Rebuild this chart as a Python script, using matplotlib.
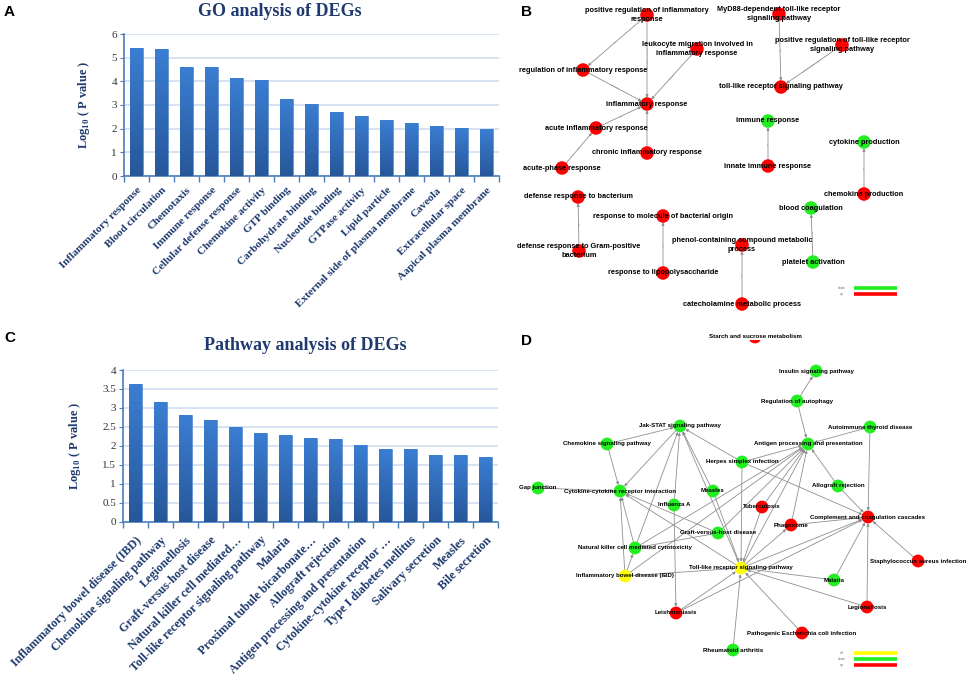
import numpy as np
import matplotlib
matplotlib.use("Agg")
import matplotlib.pyplot as plt
from matplotlib.colors import LinearSegmentedColormap

plt.rcParams["mathtext.fontset"] = "custom"
plt.rcParams["mathtext.rm"] = "Liberation Serif:bold"
plt.rcParams["mathtext.bf"] = "Liberation Serif:bold"

# ---- panel A: GO terms ----
go_terms = ["Inflammatory response", "Blood circulation", "Chemotaxis", "Immune response",
            "Cellular defense response", "Chemokine activity", "GTP binding",
            "Carbohydrate binding", "Nucleotide binding", "GTPase activity", "Lipid particle",
            "External side of plasma membrane", "Caveola", "Extracellular space",
            "Aapical plasma membrane"]
go_values = [5.42, 5.37, 4.62, 4.61, 4.16, 4.04, 3.27, 3.05, 2.72, 2.54, 2.35, 2.22, 2.12, 2.02, 1.97]

# ---- panel C: pathways ----
path_terms = ["Inflammatory bowel disease (IBD)", "Chemokine signaling pathway", "Legionellosis",
              "Graft-versus-host disease", "Natural killer cell mediated\u2026",
              "Toll-like receptor signaling pathway", "Malaria", "Proximal tubule bicarbonate\u2026",
              "Allograft rejection", "Antigen processing and presentation",
              "Cytokine-cytokine receptor \u2026", "Type I diabetes mellitus", "Salivary secretion",
              "Measles", "Bile secretion"]
path_values = [3.62, 3.16, 2.81, 2.67, 2.51, 2.35, 2.29, 2.22, 2.17, 2.03, 1.93, 1.93, 1.76, 1.76, 1.70]

# ---- panel B: GO network (pixel layout of the original) ----
b_names = ["positive regulation of inflammatory\nresponse",
           "MyD88-dependent toll-like receptor\nsignaling pathway",
           "leukocyte migration involved in\ninflammatory response",
           "positive regulation of toll-like receptor\nsignaling pathway",
           "regulation of inflammatory response", "toll-like receptor signaling pathway",
           "inflammatory response", "acute inflammatory response", "immune response",
           "cytokine production", "chronic inflammatory response", "innate immune response",
           "acute-phase response", "chemokine production", "defense response to bacterium",
           "response to molecule of bacterial origin", "blood coagulation",
           "phenol-containing compound metabolic\nprocess",
           "defense response to Gram-positive\nbacterium", "platelet activation",
           "response to lipopolysaccharide", "catecholamine metabolic process"]
b_x = [647, 779, 697, 842, 583, 781, 647, 596, 768, 864, 647, 768, 562, 864, 578, 663,
       811, 742, 579, 813, 663, 742]
b_y = [15, 14, 49, 45, 70, 87, 104, 128, 121, 142, 153, 166, 168, 194, 197, 216,
       208, 245, 251, 262, 273, 304]
b_status = ["up", "up", "up", "up", "up", "up", "up", "up", "down", "down", "up", "up",
            "up", "up", "up", "up", "down", "up", "up", "down", "up", "up"]
b_edges = [(0, 4), (0, 6), (2, 6), (4, 6), (7, 6), (10, 6), (12, 7), (1, 5), (3, 5),
           (11, 8), (13, 9), (18, 14), (20, 15), (21, 17), (19, 16)]
b_edge_types = ["is_a", "positively_regulates", "part_of", "regulates", "is_a", "is_a",
                "is_a", "is_a", "positively_regulates", "is_a", "is_a", "is_a", "is_a",
                "is_a", "part_of"]

# ---- panel D: pathway network ----
d_names = ["Starch and sucrose metabolism", "Insulin signaling pathway",
           "Regulation of autophagy", "Jak-STAT signaling pathway",
           "Autoimmune thyroid disease", "Chemokine signaling pathway",
           "Antigen processing and presentation", "Herpes simplex infection", "Gap junction",
           "Cytokine-cytokine receptor interaction", "Measles", "Allograft rejection",
           "Influenza A", "Tuberculosis", "Complement and coagulation cascades", "Phagosome",
           "Graft-versus-host disease", "Natural killer cell mediated cytotoxicity",
           "Staphylococcus aureus infection", "Toll-like receptor signaling pathway",
           "Inflammatory bowel disease (IBD)", "Malaria", "Leishmaniasis", "Legionellosis",
           "Pathogenic Escherichia coli infection", "Rheumatoid arthritis"]
d_x = [755, 816, 797, 680, 870, 607, 808, 742, 538, 620, 713, 838, 674, 762, 868, 791,
       718, 635, 918, 741, 625, 834, 676, 867, 802, 733]
d_y = [337, 371, 401, 426, 427, 444, 444, 462, 488, 491, 491, 486, 505, 507, 517, 525,
       533, 548, 561, 568, 576, 580, 613, 607, 633, 650]
d_status = ["up", "down", "down", "down", "down", "down", "down", "down", "down", "down",
            "down", "down", "down", "up", "up", "up", "down", "down", "up", "all", "all",
            "down", "up", "up", "up", "down"]
d_edges = [(1, 0), (2, 1), (2, 6), (4, 6), (4, 14), (5, 3), (5, 9), (3, 9), (8, 9),
           (7, 3), (7, 6), (7, 19), (7, 14), (10, 3), (10, 19), (12, 3), (12, 22),
           (17, 3), (17, 9), (17, 6), (20, 9), (20, 17), (20, 19), (19, 3), (19, 9),
           (16, 17), (16, 6), (16, 9), (13, 6), (13, 19), (15, 6), (15, 14), (19, 15),
           (19, 14), (19, 6), (11, 6), (11, 14), (18, 14), (21, 14), (21, 19), (23, 14),
           (23, 19), (24, 19), (25, 19), (22, 19), (22, 14), (20, 6)]

status_colors = {"up": "#ff0000", "down": "#22ee22", "all": "#ffff00"}
navy = "#1f3a6e"

fig = plt.figure(figsize=(9.7, 6.81), dpi=100)
W, H = 970.0, 681.0

cmap = LinearSegmentedColormap.from_list("barblue", ["#27579a", "#3b7ed2"])
grad = np.linspace(0, 1, 100).reshape(-1, 1)


def bar_panel(rect, labels, values, ymax, ystep, yfmt, lab_fs, lab_pad):
    ax = fig.add_axes(rect)
    xs = np.arange(len(labels))
    bars = ax.bar(xs, values, width=0.5, color="#2f68b5", edgecolor="#5a8fd6",
                  linewidth=0.5, zorder=3)
    for b in bars:
        im = ax.imshow(grad, extent=[b.get_x(), b.get_x() + b.get_width(), 0, b.get_height()],
                       origin="lower", cmap=cmap, aspect="auto", zorder=3)
        im.set_clip_path(b)
    ax.set_xlim(-0.5, len(labels) - 0.5)
    ax.set_ylim(0, ymax)
    yt = np.arange(0, ymax + 1e-9, ystep)
    ax.set_yticks(yt)
    ax.set_yticklabels([yfmt(v) for v in yt], fontfamily="Liberation Serif", fontsize=8,
                       color="#333333")
    ax.yaxis.grid(True, color="#d6e2f2", linewidth=1.4, zorder=0)
    ax.set_axisbelow(True)
    for s in ["top", "right"]:
        ax.spines[s].set_visible(False)
    for s in ["left", "bottom"]:
        ax.spines[s].set_color("#4a7ebb")
        ax.spines[s].set_linewidth(1.2)
    ax.tick_params(axis="y", length=3, color="#4a7ebb", pad=2)
    ax.set_xticks(xs)
    ax.set_xticklabels(labels, rotation=45, ha="right", va="top", rotation_mode="anchor",
                       fontfamily="Liberation Serif", fontweight="bold", fontsize=lab_fs,
                       color=navy)
    ax.tick_params(axis="x", length=0, pad=lab_pad)
    ax.set_xticks(np.arange(-0.5, len(labels), 1.0), minor=True)
    ax.tick_params(axis="x", which="minor", length=4, color="#4a7ebb", width=1)
    ax.set_ylabel(r"Log$_{10}$ ( P value )", fontfamily="Liberation Serif",
                  fontweight="bold", fontsize=9, color=navy, labelpad=14)
    return ax


bar_panel([124 / W, 1 - 176 / H, 375 / W, 142 / H], go_terms, go_values, 6, 1,
          lambda v: "%d" % v, 8.0, 7)
bar_panel([123 / W, 1 - 521.7 / H, 375 / W, 151.7 / H], path_terms, path_values, 4, 0.5,
          lambda v: ("%g" % v), 8.7, 9)

fig.text(280 / W, 1 - 11 / H, "GO analysis of DEGs", ha="center", va="center",
         fontfamily="Liberation Serif", fontweight="bold", fontsize=13, color=navy)
fig.text(305 / W, 1 - 346 / H, "Pathway analysis of DEGs", ha="center", va="center",
         fontfamily="Liberation Serif", fontweight="bold", fontsize=13, color=navy)

for lx, ly, letter in [(4, 12, "A"), (521, 12, "B"), (4, 338, "C"), (521, 341, "D")]:
    fig.text(lx / W, 1 - ly / H, letter, ha="left", va="center", fontfamily="Liberation Sans",
             fontweight="bold", fontsize=11, color="black")


def network(rect, xlim, ylim, names, xs, ys, status, edges, fs, node_s, etypes=None):
    ax = fig.add_axes(rect)
    ax.set_xlim(*xlim)
    ax.set_ylim(*ylim)
    ax.axis("off")
    for k, (a, b) in enumerate(edges):
        ax.annotate("", xy=(xs[b], ys[b]), xytext=(xs[a], ys[a]),
                    arrowprops=dict(arrowstyle="-|>", color="#8f8f8f", lw=0.6,
                                    mutation_scale=4, shrinkA=0, shrinkB=4.5), zorder=1)
        if etypes is not None:
            ang = np.degrees(np.arctan2(-(ys[b] - ys[a]), xs[b] - xs[a]))
            if ang > 90:
                ang -= 180
            if ang < -90:
                ang += 180
            ax.text((xs[a] + xs[b]) / 2, (ys[a] + ys[b]) / 2, etypes[k], fontsize=1.6,
                    color="#888888", ha="center", va="center", rotation=ang, zorder=1)
    ax.scatter(xs, ys, s=node_s, c=[status_colors[s] for s in status], linewidths=0,
               zorder=2)
    for n, x, y in zip(names, xs, ys):
        ax.text(x, y, n, ha="center", va="center", fontsize=fs, fontweight="bold",
                fontfamily="Liberation Sans", linespacing=1.3, zorder=3)
    return ax


axb = network([490 / W, 1 - 340 / H, 480 / W, 340 / H], (490, 970), (340, 0), b_names,
              b_x, b_y, b_status, b_edges, 5.3, 95, b_edge_types)
axd = network([490 / W, 0, 480 / W, 341 / H], (490, 970), (681, 340), d_names, d_x, d_y,
              d_status, d_edges, 4.4, 85)

# legends
for ax, items, y0 in [(axb, ["down", "up"], 287.7), (axd, ["all", "down", "up"], 653.3)]:
    for i, key in enumerate(items):
        yy = y0 + i * 5.8
        ax.plot([854, 897], [yy, yy], color=status_colors[key], lw=2.6,
                solid_capstyle="butt")
        ax.text(842, yy, key, fontsize=2.2, color="#666666", ha="center", va="center")

fig.savefig("out.png", dpi=100)
